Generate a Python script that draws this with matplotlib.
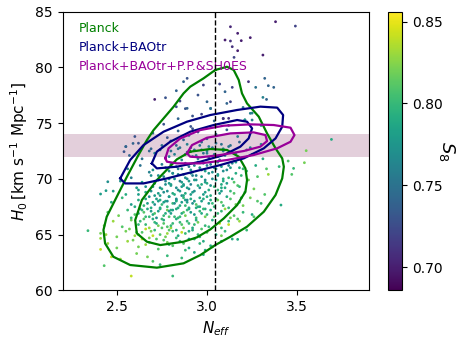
import matplotlib
matplotlib.use("Agg")
import matplotlib.pyplot as plt

# --- scatter samples (N_eff, H0, S8) ---
neff_pts = [
    3.13, 3.38, 3.49, 3.17, 3.10, 3.13, 3.19, 3.24, 3.14, 3.17,
    3.15, 3.31, 3.23, 3.32, 3.34, 3.37, 3.27, 3.07, 3.10, 3.14,
    3.13, 3.11, 3.31, 3.33, 3.20, 3.24, 3.21, 3.25, 3.09, 3.12,
    3.30, 2.89, 2.87, 2.83, 2.71, 2.85, 2.77, 2.98, 2.95, 3.00,
    3.02, 2.89, 2.92, 2.83,
    3.69, 3.55, 3.54, 3.48, 3.47, 3.41, 3.17, 2.34, 2.41, 2.41, 2.41, 2.43, 2.41, 2.44, 2.45, 2.58, 2.81, 2.55, 2.54, 2.59,
    2.52, 2.61, 2.70, 2.78, 2.86, 2.93, 2.47, 2.67, 2.74, 2.99,
    2.45, 2.50, 2.56, 2.62, 2.68, 2.73, 2.79, 2.85, 2.90, 2.96, 3.02, 2.64, 2.76, 2.88, 3.08,
    2.44, 2.50, 2.55, 2.60, 2.64, 2.68, 2.71, 2.74, 2.77, 2.81, 2.84, 2.88, 2.92, 2.96, 3.00, 3.05, 3.10, 2.66, 2.79, 2.90,
    2.43, 2.48, 2.53, 2.58, 2.62, 2.65, 2.68, 2.71, 2.73, 2.76, 2.78, 2.81, 2.83, 2.86, 2.89, 2.92, 2.95, 2.99, 3.03, 3.07, 3.12, 3.17, 2.70, 2.80, 2.90,
    2.45, 2.51, 2.56, 2.60, 2.63, 2.66, 2.69, 2.71, 2.74, 2.76, 2.78, 2.80, 2.83, 2.85, 2.87, 2.90, 2.93, 2.96, 2.99, 3.02, 3.06, 3.10, 3.15, 3.20, 3.25, 2.72, 2.82, 2.94,
    2.47, 2.53, 2.58, 2.62, 2.65, 2.68, 2.70, 2.72, 2.75, 2.77, 2.79, 2.81, 2.83, 2.85, 2.87, 2.89, 2.91, 2.94, 2.97, 3.00, 3.03, 3.06, 3.09, 3.13, 3.18, 3.24, 3.30, 2.74, 2.86, 2.96,
    2.48, 2.55, 2.61, 2.66, 2.70, 2.73, 2.75, 2.78, 2.80, 2.82, 2.84, 2.86, 2.88, 2.90, 2.92, 2.95, 2.98, 3.01, 3.04, 3.07, 3.10, 3.13, 3.17, 3.21, 3.26, 3.32, 2.77, 2.87, 2.97, 3.08,
    2.52, 2.58, 2.64, 2.69, 2.73, 2.76, 2.79, 2.82, 2.84, 2.86, 2.88, 2.90, 2.92, 2.94, 2.97, 3.00, 3.03, 3.06, 3.09, 3.12, 3.15, 3.19, 3.23, 3.28, 3.34, 2.81, 2.91, 3.01,
    2.56, 2.63, 2.70, 2.75, 2.79, 2.83, 2.86, 2.88, 2.91, 2.93, 2.96, 2.99, 3.02, 3.05, 3.08, 3.11, 3.14, 3.18, 3.22, 3.27, 3.33, 3.40, 2.95, 3.06, 3.16,
    2.57, 2.64, 2.71, 2.77, 2.82, 2.86, 2.89, 2.92, 2.95, 2.98, 3.01, 3.04, 3.07, 3.10, 3.14, 3.19, 3.25, 3.31, 3.45, 2.80, 3.00,
    2.55, 2.62, 2.69, 2.75, 2.80, 2.85, 2.89, 2.93, 2.97, 3.01, 3.05, 3.09, 3.13, 3.18, 3.24, 3.30, 2.87,
    2.60, 2.70, 2.78, 2.84, 2.90, 2.95, 3.00, 3.05, 3.11, 3.17, 3.24, 2.92,
    2.76, 2.84, 2.91, 2.97, 3.04, 3.09, 3.12, 3.21, 3.25, 3.30, 2.88, 3.02,
    3.12, 3.18, 3.22, 3.26, 3.08, 3.14, 3.03, 2.98, 3.20, 3.28,
    # dense core
    2.59, 2.66, 2.72, 2.78, 2.83, 2.87, 2.93, 2.98, 2.70, 2.81, 2.95, 2.62,
    2.57, 2.61, 2.66, 2.69, 2.72, 2.75, 2.78, 2.80, 2.83, 2.85, 2.87, 2.90, 2.93, 2.97, 3.01, 2.63, 2.76, 2.86, 2.94, 3.08,
    2.58, 2.62, 2.65, 2.68, 2.70, 2.73, 2.75, 2.77, 2.79, 2.81, 2.84, 2.86, 2.88, 2.91, 2.94, 2.97, 3.00, 3.04, 3.08, 3.13, 2.67, 2.79, 2.89, 2.99,
    2.60, 2.64, 2.67, 2.69, 2.71, 2.74, 2.76, 2.78, 2.80, 2.82, 2.84, 2.86, 2.88, 2.90, 2.92, 2.95, 2.98, 3.01, 3.04, 3.08, 3.12, 3.16, 2.73, 2.83, 2.93, 3.02,
    2.62, 2.66, 2.69, 2.71, 2.74, 2.76, 2.79, 2.81, 2.83, 2.85, 2.87, 2.89, 2.91, 2.93, 2.96, 2.99, 3.02, 3.05, 3.08, 3.11, 3.15, 3.19, 2.78, 2.88, 2.98, 3.06,
    2.66, 2.71, 2.74, 2.77, 2.80, 2.83, 2.85, 2.87, 2.89, 2.91, 2.93, 2.96, 2.99, 3.02, 3.05, 3.08, 3.11, 3.14, 3.18, 2.79, 2.89, 2.99, 3.09, 2.62,
    2.68, 2.73, 2.77, 2.81, 2.84, 2.87, 2.90, 2.92, 2.94, 2.97, 3.00, 3.03, 3.06, 3.09, 3.12, 3.16, 3.20, 2.80, 2.89, 2.98, 3.04, 3.13,
    2.74, 2.79, 2.84, 2.88, 2.91, 2.94, 2.97, 3.00, 3.03, 3.06, 3.09, 3.12, 3.16, 3.22, 2.83, 2.96, 3.08, 2.68,
]
h0_pts = [
    83.65, 84.10, 83.71, 83.06, 82.46, 82.37, 82.40, 82.67, 81.86, 81.50,
    80.90, 81.11, 78.72, 79.02, 78.36, 78.21, 78.21, 78.51, 77.82, 78.21,
    76.92, 76.77, 77.31, 77.13, 76.41, 75.88, 75.28, 75.28, 75.43, 75.43,
    74.83, 79.02, 78.72, 77.91, 77.13, 76.98, 77.28, 78.42, 77.52, 76.92,
    76.33, 76.33, 75.64, 76.47,
    73.54, 72.53, 71.45, 70.94, 70.40, 67.65, 64.57, 65.35, 65.11, 64.66, 63.67, 62.21, 68.64, 68.94, 69.74, 61.28, 61.28, 72.89, 72.44, 73.18,
    62.8, 63.3, 62.6, 63.1, 62.9, 63.4, 63.0, 63.0, 62.3, 63.6,
    64.2, 63.8, 64.4, 63.9, 64.3, 63.7, 64.1, 64.4, 63.8, 64.2, 64.0, 64.6, 64.5, 63.6, 64.4,
    65.0, 64.8, 65.3, 64.9, 65.2, 64.7, 65.4, 65.0, 64.8, 65.3, 64.9, 65.1, 65.4, 64.8, 65.2, 65.0, 65.3, 65.5, 65.4, 64.6,
    65.8, 66.2, 65.7, 66.3, 65.9, 66.4, 65.6, 66.1, 65.8, 66.3, 65.7, 66.0, 66.4, 65.9, 66.2, 65.6, 66.1, 65.8, 66.3, 66.0, 66.2, 66.4, 66.4, 65.6, 66.0,
    67.0, 66.7, 67.2, 66.8, 67.3, 66.6, 67.1, 66.9, 67.4, 66.7, 67.2, 66.9, 67.3, 66.6, 67.0, 67.4, 66.8, 67.1, 66.6, 67.2, 66.9, 67.3, 66.7, 67.0, 66.8, 66.5, 66.6, 67.4,
    67.9, 68.3, 67.7, 68.1, 67.6, 68.4, 67.9, 68.2, 67.7, 68.0, 68.4, 67.8, 68.1, 67.6, 68.3, 67.9, 68.2, 67.7, 68.0, 68.4, 67.8, 68.1, 67.6, 68.2, 67.9, 68.3, 67.8, 68.5, 68.5, 67.5,
    68.9, 68.6, 69.2, 68.8, 69.3, 68.7, 69.1, 68.9, 69.4, 68.6, 69.0, 69.3, 68.7, 69.1, 68.8, 69.4, 68.6, 69.0, 69.3, 68.7, 69.2, 68.9, 69.4, 68.8, 69.1, 68.6, 69.5, 69.5, 69.5, 69.5,
    69.8, 70.1, 69.7, 70.3, 69.9, 70.2, 69.6, 70.0, 70.4, 69.7, 70.1, 69.8, 70.3, 69.9, 70.2, 69.6, 70.0, 70.4, 69.8, 70.1, 69.7, 70.3, 69.9, 70.2, 70.4, 70.5, 70.5, 70.5,
    70.9, 71.2, 70.8, 71.3, 70.7, 71.1, 70.9, 71.4, 70.8, 71.2, 71.0, 70.7, 71.3, 70.9, 71.1, 70.8, 71.4, 71.0, 70.7, 71.2, 70.9, 71.1, 71.5, 71.5, 71.5,
    72.1, 71.8, 72.3, 71.9, 72.2, 71.7, 72.4, 72.0, 71.8, 72.3, 71.9, 72.2, 71.7, 72.1, 72.4, 71.9, 72.2, 71.8, 71.6, 72.5, 72.5,
    72.9, 73.2, 72.7, 73.0, 73.4, 72.8, 73.1, 72.6, 73.3, 72.9, 73.2, 72.7, 73.0, 73.3, 72.8, 73.1, 73.5,
    73.8, 74.1, 73.7, 74.3, 73.9, 74.2, 73.6, 74.0, 74.4, 73.8, 74.1, 74.5,
    74.9, 75.4, 74.7, 75.8, 75.2, 75.4, 74.8, 75.3, 75.9, 74.8, 76.3, 76.3,
    65.9, 66.2, 65.4, 66.6, 64.9, 64.6, 63.9, 63.2, 67.6, 68.0,
    # dense core
    64.5, 64.1, 64.6, 64.3, 64.7, 64.2, 64.6, 64.4, 64.9, 64.0, 65.0, 65.0,
    65.5, 65.2, 65.9, 65.3, 66.0, 65.6, 65.1, 65.8, 65.4, 66.1, 65.6, 65.3, 65.9, 65.5, 65.7, 66.2, 66.0, 65.2, 66.3, 65.6,
    66.5, 66.9, 67.0, 66.6, 66.8, 67.1, 66.4, 66.9, 66.6, 67.2, 66.5, 66.9, 66.7, 67.0, 66.5, 66.9, 66.8, 66.6, 67.1, 66.5, 67.3, 67.1, 67.2, 67.3,
    67.5, 67.2, 67.8, 67.4, 67.7, 67.3, 67.9, 67.5, 67.2, 67.8, 67.4, 67.9, 67.6, 67.3, 67.8, 67.5, 67.3, 67.8, 67.5, 67.9, 67.4, 67.7, 68.0, 68.0, 68.0, 68.1,
    68.6, 68.2, 68.9, 68.5, 68.1, 68.8, 68.4, 68.7, 68.2, 68.9, 68.5, 68.1, 68.6, 68.9, 68.3, 68.8, 68.5, 68.2, 68.9, 68.4, 68.7, 68.3, 68.0, 68.1, 68.2, 69.0,
    69.3, 69.6, 69.2, 69.8, 69.5, 69.2, 69.8, 69.4, 70.0, 69.5, 69.9, 69.2, 69.7, 69.4, 69.9, 69.2, 69.6, 70.0, 69.3, 70.0, 69.2, 69.9, 70.0, 69.0,
    70.6, 70.3, 71.0, 70.5, 70.9, 70.4, 71.1, 70.6, 70.3, 70.8, 71.2, 70.6, 70.3, 70.7, 71.2, 70.5, 70.9, 71.3, 71.3, 71.4, 71.0, 71.0,
    72.6, 72.0, 72.7, 72.2, 72.8, 72.1, 72.6, 72.3, 72.8, 72.0, 72.5, 72.9, 72.3, 72.6, 73.0, 73.0, 73.1, 72.5,
]
s8_pts = [
    0.705, 0.70, 0.72, 0.70, 0.70, 0.71, 0.70, 0.70, 0.71, 0.70,
    0.72, 0.70, 0.71, 0.74, 0.74, 0.74, 0.75, 0.72, 0.74, 0.72,
    0.72, 0.74, 0.76, 0.74, 0.75, 0.76, 0.77, 0.76, 0.73, 0.71,
    0.77, 0.73, 0.74, 0.74, 0.70, 0.72, 0.73, 0.72, 0.73, 0.74,
    0.75, 0.74, 0.73, 0.73,
    0.79, 0.82, 0.82, 0.80, 0.81, 0.79, 0.79, 0.80, 0.82, 0.83, 0.84, 0.81, 0.78, 0.78, 0.77, 0.84, 0.80, 0.74, 0.73, 0.74,
    0.83, 0.82, 0.81, 0.80, 0.80, 0.79, 0.84, 0.82, 0.80, 0.79,
    0.83, 0.82, 0.83, 0.82, 0.81, 0.81, 0.80, 0.80, 0.79, 0.80, 0.79, 0.84, 0.81, 0.80, 0.79,
    0.83, 0.82, 0.82, 0.83, 0.81, 0.82, 0.80, 0.81, 0.82, 0.80, 0.79, 0.80, 0.79, 0.80, 0.81, 0.79, 0.80, 0.84, 0.81, 0.78,
    0.82, 0.83, 0.81, 0.82, 0.80, 0.81, 0.83, 0.80, 0.82, 0.79, 0.81, 0.80, 0.79, 0.81, 0.80, 0.79, 0.82, 0.80, 0.79, 0.84, 0.80, 0.81, 0.79, 0.83, 0.80,
    0.81, 0.82, 0.80, 0.81, 0.79, 0.80, 0.78, 0.81, 0.79, 0.80, 0.82, 0.78, 0.79, 0.80, 0.81, 0.79, 0.78, 0.80, 0.82, 0.79, 0.80, 0.83, 0.81, 0.80, 0.79, 0.77, 0.80, 0.79,
    0.79, 0.80, 0.78, 0.79, 0.80, 0.77, 0.79, 0.78, 0.80, 0.79, 0.77, 0.80, 0.78, 0.79, 0.80, 0.78, 0.79, 0.81, 0.78, 0.79, 0.80, 0.82, 0.80, 0.81, 0.80, 0.82, 0.80, 0.78, 0.77, 0.79,
    0.78, 0.79, 0.78, 0.79, 0.77, 0.78, 0.79, 0.77, 0.78, 0.79, 0.77, 0.78, 0.79, 0.77, 0.78, 0.79, 0.78, 0.79, 0.80, 0.78, 0.79, 0.80, 0.81, 0.80, 0.82, 0.81, 0.77, 0.78, 0.79, 0.79,
    0.77, 0.76, 0.78, 0.77, 0.78, 0.76, 0.78, 0.77, 0.76, 0.78, 0.77, 0.78, 0.76, 0.77, 0.78, 0.79, 0.77, 0.78, 0.79, 0.80, 0.81, 0.80, 0.82, 0.81, 0.83, 0.76, 0.77, 0.78,
    0.76, 0.75, 0.77, 0.76, 0.77, 0.76, 0.77, 0.75, 0.77, 0.76, 0.77, 0.78, 0.76, 0.77, 0.78, 0.77, 0.76, 0.79, 0.80, 0.79, 0.81, 0.80, 0.76, 0.77, 0.78,
    0.74, 0.75, 0.76, 0.75, 0.76, 0.77, 0.75, 0.76, 0.77, 0.75, 0.76, 0.77, 0.76, 0.77, 0.75, 0.78, 0.77, 0.79, 0.81, 0.75, 0.76,
    0.74, 0.73, 0.74, 0.75, 0.74, 0.75, 0.76, 0.75, 0.74, 0.76, 0.75, 0.76, 0.75, 0.74, 0.76, 0.77, 0.74,
    0.73, 0.74, 0.73, 0.74, 0.75, 0.73, 0.74, 0.75, 0.74, 0.76, 0.75, 0.73,
    0.73, 0.74, 0.73, 0.72, 0.74, 0.71, 0.73, 0.77, 0.76, 0.77, 0.73, 0.75,
    0.84, 0.83, 0.80, 0.81, 0.82, 0.79, 0.80, 0.79, 0.82, 0.81,
    # dense core
    0.82, 0.83, 0.81, 0.82, 0.80, 0.81, 0.80, 0.79, 0.84, 0.81, 0.80, 0.82,
    0.82, 0.81, 0.80, 0.82, 0.79, 0.81, 0.83, 0.80, 0.79, 0.80, 0.82, 0.79, 0.80, 0.81, 0.80, 0.80, 0.81, 0.84, 0.79, 0.80,
    0.80, 0.79, 0.81, 0.80, 0.79, 0.78, 0.80, 0.79, 0.81, 0.78, 0.80, 0.79, 0.82, 0.78, 0.80, 0.79, 0.80, 0.81, 0.80, 0.82, 0.79, 0.78, 0.80, 0.79,
    0.79, 0.80, 0.78, 0.79, 0.77, 0.79, 0.78, 0.80, 0.79, 0.77, 0.79, 0.78, 0.80, 0.79, 0.77, 0.79, 0.80, 0.78, 0.80, 0.81, 0.80, 0.82, 0.78, 0.79, 0.78, 0.79,
    0.78, 0.79, 0.77, 0.78, 0.79, 0.77, 0.78, 0.79, 0.77, 0.78, 0.79, 0.77, 0.78, 0.77, 0.79, 0.78, 0.79, 0.80, 0.78, 0.79, 0.81, 0.80, 0.77, 0.78, 0.79, 0.80,
    0.77, 0.78, 0.77, 0.76, 0.78, 0.77, 0.76, 0.78, 0.77, 0.76, 0.78, 0.77, 0.78, 0.77, 0.78, 0.79, 0.78, 0.79, 0.80, 0.77, 0.78, 0.77, 0.79, 0.78,
    0.76, 0.77, 0.76, 0.77, 0.76, 0.77, 0.75, 0.77, 0.76, 0.77, 0.76, 0.77, 0.78, 0.77, 0.76, 0.79, 0.80, 0.76, 0.76, 0.75, 0.77, 0.78,
    0.75, 0.76, 0.75, 0.76, 0.75, 0.76, 0.75, 0.76, 0.75, 0.77, 0.76, 0.75, 0.77, 0.76, 0.74, 0.75, 0.75, 0.74,
]

# --- contour outlines (N_eff, H0) ---
planck_95_x = [3.046, 3.111, 3.148, 3.176, 3.194, 3.222, 3.287, 3.333, 3.380, 3.417, 3.426, 3.417, 3.380, 3.315, 3.222, 3.130,
               3.046, 2.963, 2.870, 2.722, 2.574, 2.481, 2.435, 2.426, 2.444, 2.500, 2.556, 2.620, 2.667, 2.704, 2.815, 2.870, 2.907, 2.981]
planck_95_y = [79.77, 80.06, 79.77, 78.87, 77.67, 76.77, 75.58, 74.08, 72.74, 71.84, 71.09, 70.04, 68.55, 67.05, 65.71, 64.81,
               64.06, 63.16, 62.42, 62.03, 62.27, 63.01, 64.21, 65.41, 66.60, 68.40, 70.19, 72.14, 73.48, 74.38, 76.48, 77.67, 78.27, 79.02]
planck_68_x = [2.907, 3.019, 3.111, 3.176, 3.213, 3.222, 3.213, 3.167, 3.093, 3.019, 2.944, 2.870, 2.741, 2.667, 2.611, 2.602, 2.639, 2.722, 2.833]
planck_68_y = [72.44, 72.68, 72.59, 71.99, 70.94, 69.89, 68.85, 67.65, 66.45, 65.47, 64.75, 64.36, 64.06, 64.36, 65.11, 66.30, 68.10, 69.89, 71.75]

bao_95_x = [2.519, 2.574, 2.648, 2.759, 2.889, 3.019, 3.167, 3.296, 3.389, 3.422, 3.417, 3.380, 3.315, 3.204, 3.074, 2.926, 2.778, 2.648, 2.546]
bao_95_y = [70.04, 71.69, 73.03, 74.23, 75.13, 75.73, 76.18, 76.48, 76.39, 75.73, 74.68, 73.63, 72.74, 71.84, 71.24, 70.64, 70.04, 69.59, 69.59]
bao_68_x = [2.694, 2.722, 2.796, 2.907, 3.037, 3.167, 3.222, 3.250, 3.231, 3.185, 3.093, 2.963, 2.833, 2.722]
bao_68_y = [71.39, 72.44, 73.33, 74.23, 74.83, 75.28, 75.13, 74.53, 73.63, 72.89, 72.14, 71.54, 71.09, 70.94]

sh0es_95_x = [2.769, 2.787, 2.852, 2.963, 3.093, 3.241, 3.370, 3.463, 3.485, 3.463, 3.389, 3.259, 3.111, 2.963, 2.833, 2.778]
sh0es_95_y = [71.84, 72.74, 73.63, 74.38, 74.77, 74.89, 74.83, 74.59, 73.93, 73.33, 72.74, 72.14, 71.69, 71.39, 71.39, 71.54]
sh0es_68_x = [2.889, 2.917, 3.000, 3.130, 3.259, 3.324, 3.333, 3.296, 3.204, 3.074, 2.963, 2.907]
sh0es_68_y = [72.29, 73.03, 73.69, 74.08, 74.17, 73.93, 73.39, 72.89, 72.50, 72.14, 71.93, 71.99]

sh0es_band = (72.0, 74.0)
neff_std = 3.046
labels = ["Planck", "Planck+BAOtr", "Planck+BAOtr+P.P.&SH0ES"]
colors = ["green", "navy", "#990099"]

fig = plt.figure(figsize=(4.63, 3.48), dpi=100)
ax = fig.add_axes([0.1354, 0.1658, 0.6623, 0.8006])
cax = fig.add_axes([0.8387, 0.1658, 0.0302, 0.8006])

ax.axhspan(sh0es_band[0], sh0es_band[1], color="#e3cfdb", zorder=0, lw=0)
sc = ax.scatter(neff_pts, h0_pts, c=s8_pts, cmap="viridis", vmin=0.686, vmax=0.856,
                s=4, marker="o", linewidths=0, zorder=1)


def closed(xs, ys):
    return list(xs) + [xs[0]], list(ys) + [ys[0]]


for (cx, cy), col in [((planck_95_x, planck_95_y), colors[0]), ((planck_68_x, planck_68_y), colors[0]),
                      ((bao_95_x, bao_95_y), colors[1]), ((bao_68_x, bao_68_y), colors[1]),
                      ((sh0es_95_x, sh0es_95_y), colors[2]), ((sh0es_68_x, sh0es_68_y), colors[2])]:
    xx, yy = closed(cx, cy)
    ax.plot(xx, yy, color=col, lw=1.6, solid_joinstyle="round", zorder=3)

ax.axvline(neff_std, color="black", ls="--", lw=1, zorder=4)

for i, (lab, col) in enumerate(zip(labels, colors)):
    ax.text(2.29, 83.5 - 1.72 * i, lab, color=col, fontsize=9, va="center", ha="left")

ax.set_xlim(2.2, 3.9)
ax.set_ylim(60, 85)
ax.set_xticks([2.5, 3.0, 3.5])
ax.set_yticks([60, 65, 70, 75, 80, 85])
ax.tick_params(labelsize=10)
ax.set_xlabel(r"$N_{eff}$", fontsize=11)
ax.set_ylabel(r"$H_0\,[\mathrm{km\ s^{-1}\ Mpc^{-1}}]$", fontsize=11)

cb = fig.colorbar(sc, cax=cax)
cb.set_ticks([0.70, 0.75, 0.80, 0.85])
cb.ax.tick_params(labelsize=10)
cb.set_label(r"$S_8$", rotation=270, fontsize=13, labelpad=10)

fig.savefig("out.png", dpi=100)
